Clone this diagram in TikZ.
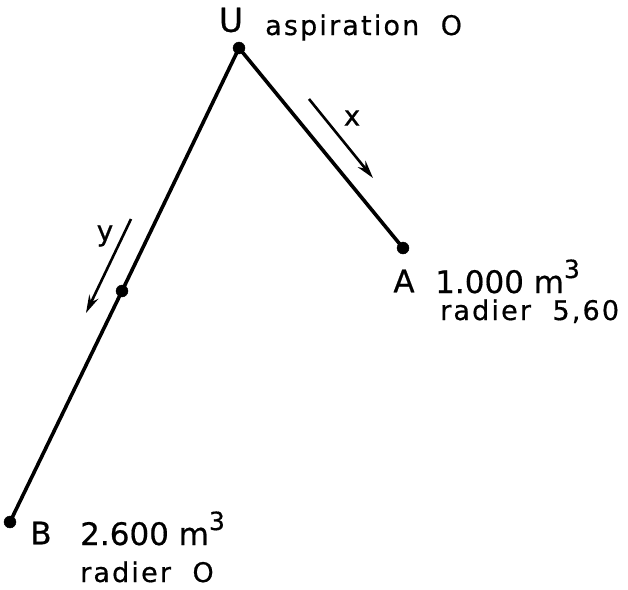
\documentclass[tikz,border=0pt]{standalone}
\usepackage{fontspec}
\setmainfont{DejaVu Sans}
\newfontfamily\spaced[LetterSpace=8,FakeBold=0.6]{DejaVu Sans}
\newfontfamily\plain[FakeBold=0.6]{DejaVu Sans}
\usetikzlibrary{arrows.meta}
\tikzset{
  pipe/.style={line width=3.6pt},
  flow/.style={line width=2.6pt, -{Stealth[length=18pt,width=10pt,inset=6pt]}},
  pt/.style={circle, fill=black, draw=black, inner sep=0pt, minimum size=12pt},
  lbl/.style={inner sep=0pt, font=\plain\fontsize{31}{31}\selectfont},
  sub/.style={inner sep=0pt, anchor=base west, font=\spaced\fontsize{27}{27}\selectfont},
}
\newcommand{\cube}{\raisebox{15pt}{\fontsize{25}{25}\selectfont 3}}
\begin{document}
\begin{tikzpicture}[x=1pt,y=-1pt]
\useasboundingbox (0,0) rectangle (628,589);
\coordinate (U) at (239,48);
\coordinate (A) at (403,248);
\coordinate (B) at (10,522);
\coordinate (M) at (122,291);
\draw[pipe] (U) -- (A);
\draw[pipe] (U) -- (M) -- (B);
\node[pt] (Ud) at (U) {};
\node[pt] (Ad) at (A) {};
\node[pt] (Bd) at (B) {};
\node[pt] (Md) at (M) {};
\coordinate (x1) at (309,99);
\coordinate (x2) at (373,178);
\coordinate (y1) at (131,219);
\coordinate (y2) at (86,313);
\draw[flow] (x1) -- (x2);
\draw[flow] (y1) -- (y2);
\node[lbl, font=\plain\fontsize{33}{33}\selectfont] (Ul) at (231,20) {U};
\node[sub] (asp) at (265,35) {aspiration\ \ O};
\node[lbl, font=\plain\fontsize{28}{28}\selectfont] (xl) at (352,118) {x};
\node[lbl, font=\plain\fontsize{28}{28}\selectfont] (yl) at (105,236) {y};
\node[lbl] (Al) at (404,281) {A};
\node[lbl, anchor=base west] (Av) at (435,293) {1.000 m\cube};
\node[sub] (Ar) at (440,320) {radier\ \ 5,60};
\node[lbl] (Bl) at (41,533) {B};
\node[lbl, anchor=base west] (Bv) at (80,545) {2.600 m\cube};
\node[sub] (Br) at (80,582) {radier\ \ O};
\end{tikzpicture}
\end{document}
